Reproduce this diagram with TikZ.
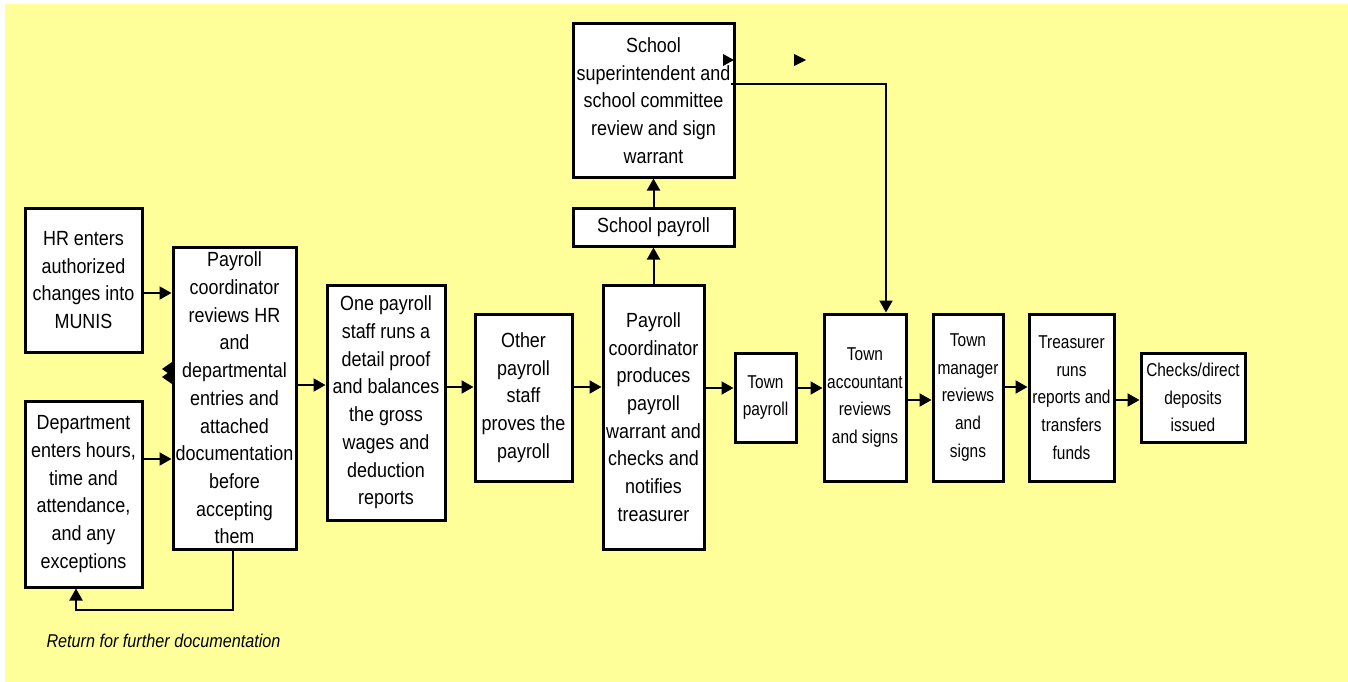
\documentclass[tikz,border=0pt]{standalone}
\usepackage{fontspec}
\setmainfont{Liberation Sans}[FakeStretch=0.875]
\newfontfamily\townfont{Liberation Sans}[FakeStretch=0.83]
\usetikzlibrary{arrows.meta}
\definecolor{pagebg}{HTML}{FFFF99}
\tikzset{
  stepbox/.style={draw=black, line width=3pt, fill=white, inner sep=0pt,
    align=center, font=\fontsize{20.5}{27.7}\selectfont},
  townbox/.style={stepbox, font=\townfont\fontsize{18.6}{27.7}\selectfont},
  arr/.style={line width=2pt, -{Triangle[length=12pt,width=13pt]}},
  tip/.style={fill=black},
}
\begin{document}
\begin{tikzpicture}[x=1pt, y=-1pt]
\useasboundingbox (0,0) rectangle (1348,682);
\fill[pagebg] (5,4) rectangle (1348,682);

% intake
\node[stepbox, minimum width=117, minimum height=144] (hr) at (83.5,280)
  {HR enters\\authorized\\changes into\\MUNIS};
\node[stepbox, minimum width=117, minimum height=186] (dept) at (83.5,494)
  {Department\\enters hours,\\time and\\attendance,\\and any\\exceptions};
\node[stepbox, minimum width=123, minimum height=302] (pc) at (234.5,398)
  {Payroll\\coordinator\\reviews HR\\and\\departmental\\entries and\\attached\\documentation\\before\\accepting\\them};

% payroll office
\node[stepbox, minimum width=118, minimum height=235] (one) at (386,402.5)
  {One payroll\\staff runs a\\detail proof\\and balances\\the gross\\wages and\\deduction\\reports};
\node[stepbox, minimum width=97, minimum height=167] (other) at (523.5,397.5)
  {Other\\payroll\\staff\\proves the\\payroll};
\node[stepbox, minimum width=101, minimum height=264] (pcp) at (653.5,417)
  {Payroll\\coordinator\\produces\\payroll\\warrant and\\checks and\\notifies\\treasurer};

% school branch
\node[stepbox, minimum width=161, minimum height=38] (spay) at (653.5,227)
  {School payroll};
\node[stepbox, minimum width=161, minimum height=153] (sup) at (653.5,100.5)
  {School\\superintendent and\\school committee\\review and sign\\warrant};

% town branch
\node[townbox, minimum width=61, minimum height=89] (town) at (765.5,397.5)
  {Town\\payroll};
\node[townbox, minimum width=82, minimum height=167] (acc) at (865,397.5)
  {Town\\accountant\\reviews\\and signs};
\node[townbox, minimum width=70, minimum height=167] (mgr) at (968,397.5)
  {Town\\manager\\reviews\\and\\signs};
\node[townbox, minimum width=85, minimum height=167] (tre) at (1071.5,397.5)
  {Treasurer\\runs\\reports and\\transfers\\funds};
\node[townbox, minimum width=104, minimum height=89] (chk) at (1193,397.5)
  {Checks/direct\\deposits\\issued};

% connectors
\draw[arr] (hr.east |- 0,293) -- (pc.west |- 0,293);
\draw[arr] (dept.east |- 0,459) -- (pc.west |- 0,459);
\draw[arr] (pc.east |- 0,385) -- (one.west |- 0,385);
\draw[arr] (one.east |- 0,387) -- (other.west |- 0,387);
\draw[arr] (other.east |- 0,387) -- (pcp.west |- 0,387);
\draw[arr] (pcp.east |- 0,388) -- (town.west |- 0,388);
\draw[arr] (town.east |- 0,388) -- (acc.west |- 0,388);
\draw[arr] (acc.east |- 0,400) -- (mgr.west |- 0,400);
\draw[arr] (mgr.east |- 0,387) -- (tre.west |- 0,387);
\draw[arr] (tre.east |- 0,400) -- (chk.west |- 0,400);
\draw[arr] (pcp.north) -- (spay.south);
\draw[arr] (spay.north) -- (sup.south);

% signed warrant goes on to the town accountant
\coordinate (supout) at ([xshift=-5pt]sup.east);
\coordinate (accin) at ([xshift=21pt]acc.north);
\draw[arr] (supout |- 0,84) -| (accin);

% return loop
\coordinate (retin) at ([xshift=-7.5pt]dept.south);
\draw[arr] ([xshift=-1.5pt]pc.south) -- ([xshift=-1.5pt]pc.south |- 0,610) -| (retin);
\node[font=\fontsize{18.5}{22}\selectfont\itshape, anchor=base] (retlbl) at (163.5,647)
  {Return for further documentation};

% loose arrowheads
\fill[tip] (162,369) -- (172,362) -- (172,376) -- cycle;
\fill[tip] (162,377) -- (172,370) -- (172,384) -- cycle;
\fill[tip] (734,60) -- (723,54) -- (723,66) -- cycle;
\fill[tip] (806,60) -- (794,54) -- (794,66) -- cycle;
\end{tikzpicture}
\end{document}
